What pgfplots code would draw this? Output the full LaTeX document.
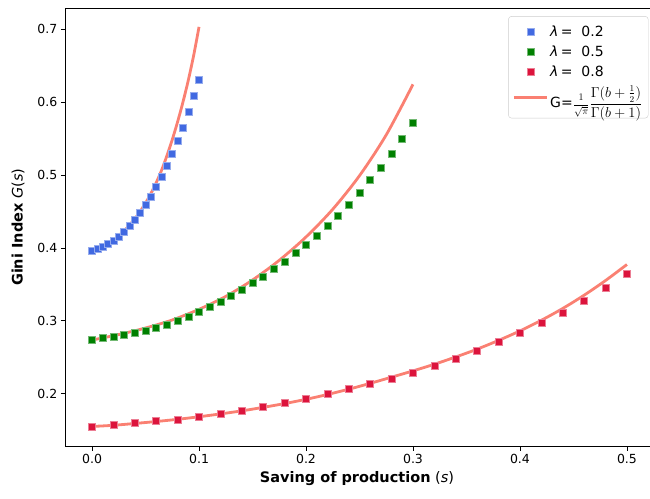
\documentclass[border=0pt]{standalone}
\usepackage{amsmath}
\usepackage{fontspec}
\setmainfont{DejaVu Sans}
\usepackage{pgfplots}
\pgfplotsset{compat=1.18}

\definecolor{royal}{HTML}{4169E1}
\definecolor{grn}{HTML}{008000}
\definecolor{crim}{HTML}{DC143C}
\definecolor{salm}{HTML}{FA8072}

% simulated Gini index, lambda = 0.2
\pgfplotstableread{
s G
0     0.3964
0.005 0.3990
0.01  0.4020
0.015 0.4056
0.02  0.4102
0.025 0.4157
0.03  0.4221
0.035 0.4300
0.04  0.4386
0.045 0.4477
0.05  0.4592
0.055 0.4700
0.06  0.4834
0.065 0.4977
0.07  0.5122
0.075 0.5290
0.08  0.5466
0.085 0.5650
0.09  0.5860
0.095 0.6080
0.1   0.6310
}\simA

% simulated Gini index, lambda = 0.5
\pgfplotstableread{
s G
0    0.2745
0.01 0.2762
0.02 0.2782
0.03 0.2808
0.04 0.2838
0.05 0.2870
0.06 0.2905
0.07 0.2950
0.08 0.3000
0.09 0.3055
0.10 0.3125
0.11 0.3190
0.12 0.3262
0.13 0.3340
0.14 0.3430
0.15 0.3520
0.16 0.3610
0.17 0.3710
0.18 0.3810
0.19 0.3930
0.20 0.4045
0.21 0.4170
0.22 0.4307
0.23 0.4443
0.24 0.4590
0.25 0.4755
0.26 0.4928
0.27 0.5103
0.28 0.5295
0.29 0.5498
0.30 0.5718
}\simB

% simulated Gini index, lambda = 0.8
\pgfplotstableread{
s G
0    0.1554
0.02 0.1568
0.04 0.1596
0.06 0.1623
0.08 0.1647
0.10 0.1682
0.12 0.1724
0.14 0.1765
0.16 0.1816
0.18 0.1871
0.20 0.1926
0.22 0.1995
0.24 0.2063
0.26 0.2135
0.28 0.2210
0.30 0.2293
0.32 0.2384
0.34 0.2486
0.36 0.2591
0.38 0.2710
0.40 0.2834
0.42 0.2967
0.44 0.3113
0.46 0.3274
0.48 0.3448
0.50 0.3641
}\simC

% analytic Gini index of the gamma distribution
\pgfplotstableread{
s G
0     0.3974
0.005 0.3995
0.01  0.4025
0.015 0.4063
0.02  0.4110
0.025 0.4168
0.03  0.4235
0.035 0.4313
0.04  0.4400
0.045 0.4500
0.05  0.4615
0.055 0.4745
0.06  0.4895
0.065 0.5065
0.07  0.5265
0.075 0.5485
0.08  0.5730
0.085 0.6000
0.09  0.6300
0.095 0.6640
0.1   0.7030
}\thA

\pgfplotstableread{
s G
0      0.2737
0.025  0.2812
0.05   0.2902
0.075  0.3012
0.1    0.3158
0.125  0.3335
0.15   0.3560
0.175  0.3830
0.2    0.4150
0.225  0.4530
0.25   0.4990
0.275  0.5550
0.3    0.6242
}\thB

\pgfplotstableread{
s G
0    0.1552
0.02 0.1568
0.04 0.1593
0.06 0.1620
0.08 0.1650
0.10 0.1685
0.12 0.1724
0.14 0.1766
0.16 0.1814
0.18 0.1866
0.20 0.1924
0.22 0.1990
0.24 0.2063
0.26 0.2143
0.28 0.2228
0.30 0.2314
0.32 0.2405
0.34 0.2505
0.36 0.2612
0.38 0.2732
0.40 0.2862
0.42 0.3008
0.44 0.3170
0.46 0.3352
0.48 0.3553
0.50 0.3773
}\thC

\begin{document}
\begin{tikzpicture}
\useasboundingbox (-65.3pt,-51.7pt) rectangle (584.7pt,446.3pt);
\begin{axis}[
  at={(0pt,0pt)}, anchor=south west,
  scale only axis, width=588.4pt, height=438pt,
  xmin=-0.025, xmax=0.525, ymin=0.128, ymax=0.7285,
  xtick={0,0.1,0.2,0.3,0.4,0.5},
  xticklabels={0.0,0.1,0.2,0.3,0.4,0.5},
  ytick={0.2,0.3,0.4,0.5,0.6,0.7},
  yticklabels={0.2,0.3,0.4,0.5,0.6,0.7},
  tick pos=left, tick align=outside, major tick length=4.5pt,
  tick style={black, line width=0.8pt},
  axis line style={black, line width=0.8pt},
  ticklabel style={font=\fontsize{12.5}{13}\selectfont},
  xlabel={\textbf{Saving of production} ({\itshape s})},
  ylabel={\textbf{Gini Index} {\itshape G}({\itshape s})},
  label style={font=\fontsize{14.5}{15}\selectfont},
  x label style={at={(axis description cs:0.4957,-0.0747)}, anchor=center},
  y label style={at={(axis description cs:-0.0804,0.5)}, anchor=center},
  legend cell align=left,
  legend style={at={(axis description cs:0.991,0.982)}, anchor=north east,
    draw=black!20, rounded corners=3pt, fill=white,
    font=\fontsize{14}{16}\selectfont,
    inner xsep=4pt, inner ysep=7pt, row sep=4pt},
  mymark/.style={only marks, mark=square*, mark size=3.5pt,
    mark options={draw=#1!55!white, fill=#1, line width=0.6pt},
    legend image code/.code={\draw[mark repeat=2,mark phase=2]
      plot coordinates {(0pt,0pt) (16.5pt,0pt) (33pt,0pt)};}},
  theo/.style={salm, line width=2.8pt, smooth, no marks,
    legend image code/.code={\draw (0pt,0pt) -- (33pt,0pt);}},
]
\addplot[mymark=royal] table[x=s,y=G] {\simA};
\addlegendentry{{\itshape λ}\,= \ 0.2}
\addplot[mymark=grn] table[x=s,y=G] {\simB};
\addlegendentry{{\itshape λ}\,= \ 0.5}
\addplot[mymark=crim] table[x=s,y=G] {\simC};
\addlegendentry{{\itshape λ}\,= \ 0.8}
\addplot[theo] table[x=s,y=G] {\thA};
\addlegendentry{G={\fontsize{10}{11}\selectfont$\genfrac{}{}{0.5pt}{0}{1}{\sqrt{\pi}}$}%
  {\fontsize{13.5}{14}\selectfont$\genfrac{}{}{0.5pt}{0}{\Gamma(b+\frac{1}{2})}{\Gamma(b+1)}$}}
\addplot[theo, forget plot] table[x=s,y=G] {\thB};
\addplot[theo, forget plot] table[x=s,y=G] {\thC};
\end{axis}
\end{tikzpicture}
\end{document}
